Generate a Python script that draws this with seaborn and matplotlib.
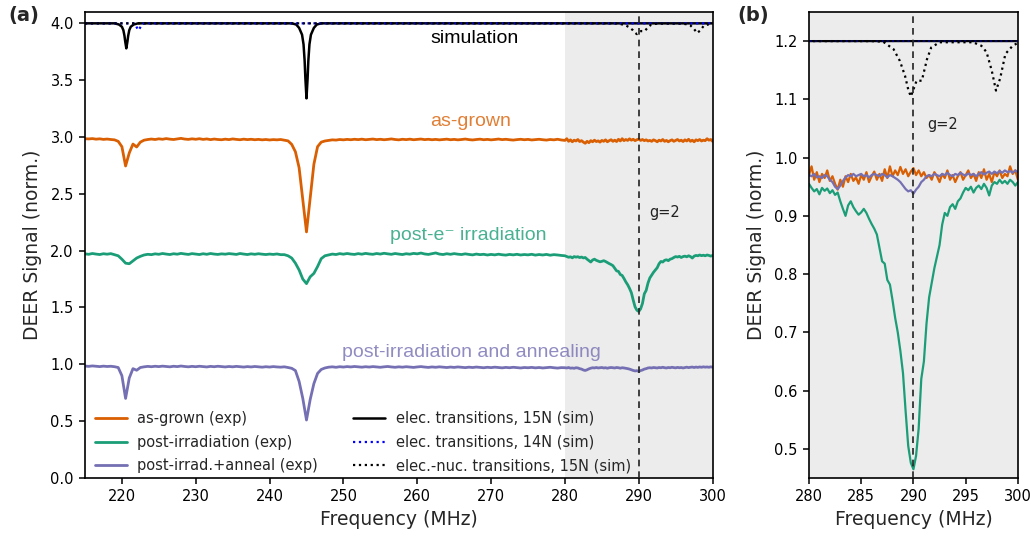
import numpy as np
import matplotlib
matplotlib.use("Agg")
import matplotlib.pyplot as plt
import seaborn as sns

# ---------------- data ----------------
# frequency grids (MHz): coarse for 215-279.5, fine for 280-300
freq_coarse = np.arange(215.0, 279.75, 0.5)      # 130 points
freq_fine = np.arange(280.0, 300.001, 0.25)      # 81 points

asgrown_coarse = [
    0.985, 0.983, 0.986, 0.981, 0.984, 0.979, 0.982, 0.978, 0.975, 0.962,
    0.915, 0.745, 0.860, 0.938, 0.912, 0.955, 0.972, 0.978, 0.982, 0.978,
    0.984, 0.980, 0.986, 0.981, 0.978, 0.983, 0.988, 0.982, 0.979, 0.984,
    0.980, 0.985, 0.979, 0.983, 0.977, 0.982, 0.978, 0.976, 0.981, 0.977,
    0.983, 0.979, 0.976, 0.981, 0.977, 0.980, 0.976, 0.979, 0.975, 0.978,
    0.974, 0.977, 0.975, 0.978, 0.972, 0.966, 0.935, 0.870, 0.730, 0.450,
    0.165, 0.460, 0.760, 0.915, 0.955, 0.965, 0.970, 0.975, 0.973, 0.978,
    0.975, 0.979, 0.976, 0.980, 0.977, 0.981, 0.976, 0.979, 0.982, 0.977,
    0.980, 0.976, 0.979, 0.983, 0.978, 0.975, 0.980, 0.977, 0.981, 0.976,
    0.979, 0.982, 0.977, 0.980, 0.976, 0.979, 0.975, 0.978, 0.981, 0.976,
    0.979, 0.975, 0.978, 0.982, 0.977, 0.974, 0.978, 0.981, 0.976, 0.979,
    0.975, 0.978, 0.982, 0.977, 0.980, 0.976, 0.973, 0.977, 0.980, 0.976,
    0.979, 0.974, 0.977, 0.980, 0.976, 0.973, 0.978, 0.975, 0.980, 0.974,
]
asgrown_fine = [
    0.970, 0.985, 0.962, 0.975, 0.958, 0.972, 0.965, 0.978, 0.960, 0.968,
    0.955, 0.945, 0.962, 0.950, 0.968, 0.958, 0.972, 0.960, 0.966, 0.955,
    0.970, 0.962, 0.975, 0.958, 0.968, 0.976, 0.962, 0.972, 0.960, 0.980,
    0.965, 0.985, 0.968, 0.978, 0.970, 0.984, 0.972, 0.980, 0.968, 0.976,
    0.982, 0.970, 0.978, 0.968, 0.975, 0.965, 0.970, 0.962, 0.975, 0.968,
    0.958, 0.972, 0.965, 0.978, 0.962, 0.970, 0.958, 0.968, 0.975, 0.962,
    0.970, 0.978, 0.965, 0.972, 0.960, 0.975, 0.965, 0.980, 0.962, 0.972,
    0.958, 0.975, 0.968, 0.978, 0.965, 0.972, 0.968, 0.985, 0.972, 0.978,
    0.962,
]

postirr_coarse = [
    0.972, 0.968, 0.975, 0.970, 0.966, 0.973, 0.969, 0.974, 0.965, 0.955,
    0.925, 0.890, 0.885, 0.910, 0.935, 0.950, 0.962, 0.968, 0.965, 0.972,
    0.968, 0.975, 0.970, 0.966, 0.973, 0.969, 0.976, 0.971, 0.967, 0.974,
    0.970, 0.966, 0.973, 0.968, 0.975, 0.970, 0.967, 0.972, 0.969, 0.974,
    0.971, 0.967, 0.975, 0.970, 0.966, 0.972, 0.968, 0.973, 0.969, 0.966,
    0.970, 0.967, 0.971, 0.965, 0.965, 0.955, 0.935, 0.890, 0.830, 0.750,
    0.710, 0.770, 0.800, 0.860, 0.930, 0.955, 0.962, 0.970, 0.966, 0.974,
    0.969, 0.975, 0.970, 0.967, 0.974, 0.969, 0.976, 0.971, 0.968, 0.975,
    0.970, 0.977, 0.972, 0.968, 0.975, 0.970, 0.966, 0.973, 0.969, 0.976,
    0.972, 0.979, 0.971, 0.967, 0.974, 0.980, 0.970, 0.966, 0.973, 0.968,
    0.974, 0.969, 0.966, 0.972, 0.967, 0.963, 0.970, 0.965, 0.968, 0.962,
    0.967, 0.963, 0.969, 0.964, 0.961, 0.967, 0.963, 0.968, 0.962, 0.966,
    0.963, 0.968, 0.961, 0.966, 0.962, 0.967, 0.960, 0.965, 0.962, 0.958,
]
postirr_fine = [
    0.955, 0.948, 0.942, 0.946, 0.937, 0.948, 0.943, 0.947, 0.939, 0.944,
    0.936, 0.940, 0.925, 0.912, 0.900, 0.918, 0.925, 0.915, 0.908, 0.902,
    0.906, 0.912, 0.905, 0.895, 0.886, 0.878, 0.868, 0.845, 0.822, 0.818,
    0.790, 0.782, 0.755, 0.725, 0.700, 0.668, 0.630, 0.565, 0.505, 0.476,
    0.465, 0.488, 0.535, 0.620, 0.650, 0.715, 0.760, 0.785, 0.810, 0.830,
    0.850, 0.885, 0.905, 0.900, 0.915, 0.920, 0.912, 0.925, 0.930, 0.940,
    0.948, 0.944, 0.950, 0.940, 0.948, 0.952, 0.946, 0.955, 0.948, 0.935,
    0.952, 0.958, 0.955, 0.962, 0.956, 0.960, 0.955, 0.962, 0.958, 0.952,
    0.958,
]

anneal_coarse = [
    0.985, 0.982, 0.986, 0.983, 0.980, 0.984, 0.981, 0.983, 0.979, 0.972,
    0.900, 0.700, 0.880, 0.962, 0.948, 0.972, 0.978, 0.982, 0.979, 0.983,
    0.980, 0.984, 0.981, 0.978, 0.983, 0.980, 0.985, 0.981, 0.978, 0.982,
    0.979, 0.983, 0.980, 0.977, 0.982, 0.979, 0.983, 0.980, 0.977, 0.981,
    0.978, 0.982, 0.979, 0.976, 0.980, 0.977, 0.981, 0.978, 0.975, 0.979,
    0.976, 0.980, 0.977, 0.975, 0.978, 0.972, 0.965, 0.945, 0.850, 0.700,
    0.510, 0.690, 0.830, 0.920, 0.955, 0.968, 0.975, 0.978, 0.974, 0.979,
    0.976, 0.980, 0.977, 0.981, 0.978, 0.975, 0.979, 0.976, 0.980, 0.977,
    0.974, 0.978, 0.981, 0.977, 0.974, 0.978, 0.975, 0.979, 0.976, 0.973,
    0.977, 0.980, 0.976, 0.973, 0.977, 0.974, 0.978, 0.975, 0.972, 0.976,
    0.973, 0.977, 0.974, 0.971, 0.975, 0.972, 0.976, 0.973, 0.970, 0.974,
    0.971, 0.975, 0.972, 0.969, 0.973, 0.970, 0.974, 0.971, 0.968, 0.972,
    0.970, 0.973, 0.969, 0.972, 0.968, 0.971, 0.974, 0.970, 0.967, 0.971,
]
anneal_fine = [
    0.970, 0.968, 0.972, 0.966, 0.968, 0.965, 0.970, 0.968, 0.962, 0.958,
    0.950, 0.946, 0.952, 0.960, 0.966, 0.970, 0.968, 0.972, 0.968, 0.970,
    0.972, 0.968, 0.970, 0.966, 0.970, 0.972, 0.970, 0.968, 0.972, 0.970,
    0.966, 0.970, 0.968, 0.965, 0.962, 0.958, 0.952, 0.946, 0.942, 0.944,
    0.938, 0.945, 0.950, 0.958, 0.962, 0.968, 0.970, 0.968, 0.972, 0.970,
    0.968, 0.972, 0.970, 0.974, 0.970, 0.968, 0.972, 0.970, 0.974, 0.971,
    0.969, 0.973, 0.970, 0.972, 0.968, 0.972, 0.975, 0.971, 0.974, 0.976,
    0.972, 0.976, 0.973, 0.977, 0.974, 0.978, 0.975, 0.977, 0.974, 0.978,
    0.975,
]

# simulations (baseline 1.0)
sim15_freq = [215.0, 219.0, 219.6, 220.0, 220.2, 220.35, 220.45, 220.6, 220.75,
              220.85, 221.0, 221.2, 221.6, 222.2, 243.0, 243.6, 244.0, 244.4,
              244.6, 244.75, 244.85, 245.0, 245.15, 245.25, 245.4, 245.6, 246.0,
              246.4, 247.0, 300.0]
sim15_val = [1.0, 1.0, 0.99, 0.97, 0.94, 0.89, 0.84, 0.78, 0.84,
             0.89, 0.94, 0.97, 0.99, 1.0, 1.0, 0.99, 0.96, 0.90,
             0.815, 0.67, 0.515, 0.34, 0.515, 0.67, 0.815, 0.90, 0.96,
             0.99, 1.0, 1.0]

sim14_freq = [215.0, 221.6, 221.85, 222.05, 222.25, 222.45, 222.65, 223.0, 300.0]
sim14_val = [1.0, 1.0, 0.985, 0.96, 0.94, 0.96, 0.985, 1.0, 1.0]

simnuc_freq = [215.0, 286.0, 287.1, 288.1, 288.7, 289.2, 289.5, 289.75, 290.0,
               290.3, 290.8, 291.3, 291.7, 292.5, 295.7, 296.5, 297.0, 297.5,
               297.9, 298.3, 298.8, 299.5, 300.0]
simnuc_val = [1.0, 1.0, 0.999, 0.986, 0.966, 0.94, 0.917, 0.905, 0.917,
              0.932, 0.932, 0.969, 0.989, 0.998, 0.998, 0.992, 0.981, 0.949,
              0.915, 0.936, 0.978, 0.992, 0.997]

exp_labels = ["as-grown (exp)", "post-irradiation (exp)", "post-irrad.+anneal (exp)"]
sim_labels = ["elec. transitions, 15N (sim)", "elec. transitions, 14N (sim)",
              "elec.-nuc. transitions, 15N (sim)"]
exp_offsets_a = [2.0, 1.0, 0.0]
sim_offset_a = 3.0
sim_offset_b = 0.2

# ---------------- style ----------------
sns.set_style("ticks")
plt.rcParams["font.family"] = ["DejaVu Sans"]
plt.rcParams["axes.edgecolor"] = "black"

c_orange, c_green, c_purple = "#d95f02", "#1b9e77", "#7570b3"
exp_colors = [c_orange, c_green, c_purple]
shade = "#ececec"

freq_exp = np.concatenate([freq_coarse, freq_fine])
exp_data = [np.array(asgrown_coarse + asgrown_fine),
            np.array(postirr_coarse + postirr_fine),
            np.array(anneal_coarse + anneal_fine)]

fig = plt.figure(figsize=(10.35, 5.42), dpi=100)
ax1 = fig.add_axes([0.0821, 0.1181, 0.6064, 0.8598])
ax2 = fig.add_axes([0.7816, 0.1181, 0.2019, 0.8598])

# ---------------- panel (a) ----------------
ax1.axvspan(280, 300, color=shade, lw=0, zorder=0)
for vals, off, col, lab in zip(exp_data, exp_offsets_a, exp_colors, exp_labels):
    sns.lineplot(x=freq_exp, y=vals + off, ax=ax1, color=col, lw=2.0, label=lab)
sns.lineplot(x=sim15_freq, y=np.array(sim15_val) + sim_offset_a, ax=ax1,
             color="black", lw=1.8, label=sim_labels[0])
sns.lineplot(x=sim14_freq, y=np.array(sim14_val) + sim_offset_a, ax=ax1,
             color="#0000ff", lw=1.6, linestyle=":", label=sim_labels[1])
sns.lineplot(x=simnuc_freq, y=np.array(simnuc_val) + sim_offset_a, ax=ax1,
             color="black", lw=1.6, linestyle=":", label=sim_labels[2])
ax1.axvline(290, color="#222222", lw=1.2, ls=(0, (4, 3)), zorder=5)

ax1.set_xlim(215, 300)
ax1.set_ylim(0, 4.1)
ax1.set_xticks(np.arange(220, 301, 10))
ax1.set_yticks(np.arange(0, 4.01, 0.5))
ax1.set_yticklabels([f"{v:.1f}" for v in np.arange(0, 4.01, 0.5)])

tfont = ["Liberation Sans", "DejaVu Sans"]
ax1.text(267.8, 3.87, "simulation", color="black", fontsize=14, family=tfont,
         ha="center", va="center")
ax1.text(267.2, 3.14, "as-grown", color=c_orange, fontsize=14, family=tfont,
         ha="center", va="center", alpha=0.8)
ax1.text(266.9, 2.13, "post-e\u207b irradiation", color=c_green, fontsize=14,
         family=tfont, ha="center", va="center", alpha=0.8)
ax1.text(267.4, 1.10, "post-irradiation and annealing", color=c_purple,
         fontsize=14, family=tfont, ha="center", va="center", alpha=0.8)
ax1.text(293.5, 2.34, "g=2", color="#222222", fontsize=10.5, ha="center", va="center")

h, l = ax1.get_legend_handles_labels()
ax1.legend(h, l, ncol=2, loc="lower left", bbox_to_anchor=(0.0, -0.012),
           frameon=False, fontsize=10.5, handlelength=2.2, handletextpad=0.7,
           columnspacing=2.4, labelspacing=0.6, borderaxespad=0.3)

# ---------------- panel (b) ----------------
ax2.set_facecolor(shade)
for vals, col in zip(exp_data, exp_colors):
    sns.lineplot(x=freq_exp, y=vals, ax=ax2, color=col, lw=1.6)
sns.lineplot(x=sim15_freq, y=np.array(sim15_val) + sim_offset_b, ax=ax2,
             color="black", lw=1.6)
sns.lineplot(x=sim14_freq, y=np.array(sim14_val) + sim_offset_b, ax=ax2,
             color="#0000ff", lw=1.4, linestyle=":", alpha=0.5)
sns.lineplot(x=simnuc_freq, y=np.array(simnuc_val) + sim_offset_b, ax=ax2,
             color="black", lw=1.6, linestyle=":")
ax2.axvline(290, color="#222222", lw=1.2, ls=(0, (4, 3)), zorder=5)
ax2.text(292.8, 1.057, "g=2", color="#222222", fontsize=10.5, ha="center", va="center")

ax2.set_xlim(280, 300)
ax2.set_ylim(0.45, 1.25)
ax2.set_xticks(np.arange(280, 301, 5))
ax2.set_yticks(np.arange(0.5, 1.21, 0.1))
ax2.set_yticklabels([f"{v:.1f}" for v in np.arange(0.5, 1.21, 0.1)])

for ax in (ax1, ax2):
    for s in ax.spines.values():
        s.set_visible(True)
        s.set_linewidth(1.2)
        s.set_color("black")
    ax.tick_params(direction="out", length=4.5, width=1.1, labelsize=10.5,
                   colors="black")
    ax.set_xlabel("Frequency (MHz)", fontsize=13.5)
    ax.set_ylabel("DEER Signal (norm.)", fontsize=13.5, labelpad=6)

fig.text(8 / 1035, 1 - 16 / 542, "(a)", fontsize=14, fontweight="bold",
         ha="left", va="center")
fig.text(737 / 1035, 1 - 16 / 542, "(b)", fontsize=14, fontweight="bold",
         ha="left", va="center")

fig.savefig("out.png", dpi=100)
